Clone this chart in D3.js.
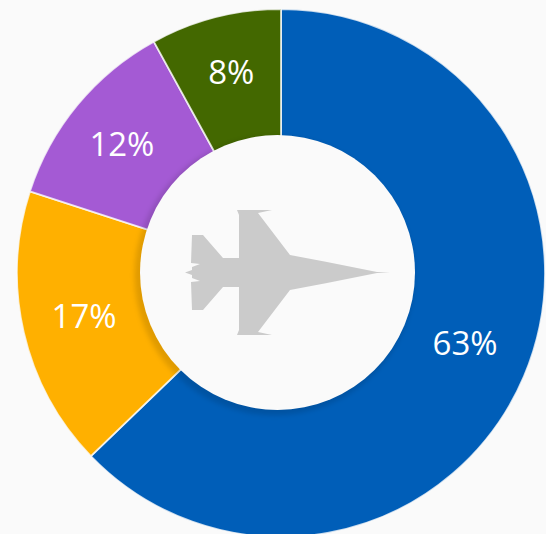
<!DOCTYPE html>
<html>
<head>
<meta charset="utf-8">
<script src="https://cdn.jsdelivr.net/npm/d3@7"></script>
<style>
   html, body { margin: 0; padding: 0; background: #fafafa; overflow: hidden; }
   svg { display: block; }
   text { font-family: "Open Sans", sans-serif; }
</style>
</head>
<body>
<div id="chart"></div>
<script>
const categories = ['Blue', 'Orange', 'Purple', 'Green'];
const shares = [62.8, 17.2, 12, 8];

const width = 546;
const height = 534;
const center = { x: 281, y: 273 };
const outerRadius = 264;
// the ring runs in under the disc, which sits a bit left of the ring centre
const innerRadius = 125;
const disc = { x: -3.5, y: -0.5, r: 137.5 };

const colors = d3
   .scaleOrdinal()
   .domain(categories)
   .range(['#005eb8', '#ffb000', '#a45ad4', '#436800']);

// the labels sit a little off the arc centroids in the original
const labelNudge = {
   Blue: [0, -9],
   Orange: [-2, -2],
   Purple: [-5, -2],
   Green: [0, -8],
};

// top half of the jet outline, mirrored below for the other half
const jetAxisY = 272.5;
const jetHalf = [
   [390, 272.5], [377, 272], [327, 262], [290, 255], [258, 213], [272, 210],
   [237, 210], [239, 215], [239, 258], [223, 258], [203, 235], [192, 235],
   [191, 263], [200, 264], [192, 267], [192, 270], [185, 272.5],
];

const svg = d3
   .select('#chart')
   .append('svg')
   .attr('width', width)
   .attr('height', height);

const defs = svg.append('defs');
defs
   .append('filter')
   .attr('id', 'soft')
   .attr('x', '-10%')
   .attr('y', '-10%')
   .attr('width', '120%')
   .attr('height', '120%')
   .append('feGaussianBlur')
   .attr('stdDeviation', 2.5);

const chart = svg
   .append('g')
   .attr('transform', `translate(${center.x},${center.y})`);

const pie = d3
   .pie()
   .sort(null)
   .value((d) => d.share);

const arc = d3.arc().innerRadius(innerRadius).outerRadius(outerRadius);
const labelArc = d3.arc().innerRadius(200).outerRadius(200);

const slices = pie(categories.map((c, i) => ({ name: c, share: shares[i] })));

chart
   .selectAll('.slice')
   .data(slices)
   .join('path')
   .attr('class', 'slice')
   .attr('d', arc)
   .attr('fill', (d) => colors(d.data.name))
   .attr('stroke', '#fafafa')
   .attr('stroke-width', 1.8)
   .attr('stroke-opacity', 0.8);

// shadow of the centre disc falling on the ring
chart
   .append('circle')
   .attr('cx', disc.x - 3)
   .attr('cy', disc.y + 3)
   .attr('r', disc.r + 2.5)
   .attr('fill', '#000')
   .attr('fill-opacity', 0.12)
   .attr('filter', 'url(#soft)');

chart
   .append('circle')
   .attr('cx', disc.x)
   .attr('cy', disc.y)
   .attr('r', disc.r)
   .attr('fill', '#fafafa');

const jetOutline = jetHalf.concat(
   jetHalf
      .slice(1, -1)
      .reverse()
      .map(([x, y]) => [x, 2 * jetAxisY - y])
);

svg
   .append('path')
   .attr('class', 'jet')
   .attr('d', d3.line().curve(d3.curveLinearClosed)(jetOutline))
   .attr('fill', '#cbcbcb');

chart
   .selectAll('.label')
   .data(slices)
   .join('text')
   .attr('class', 'label')
   .attr('transform', (d) => {
      const [x, y] = labelArc.centroid(d);
      const [dx, dy] = labelNudge[d.data.name];
      return `translate(${x + dx},${y + dy})`;
   })
   .attr('text-anchor', 'middle')
   .attr('dominant-baseline', 'central')
   .attr('font-size', 33)
   .attr('fill', '#fff')
   .text((d) => `${Math.round(d.data.share)}%`);
</script>
</body>
</html>
